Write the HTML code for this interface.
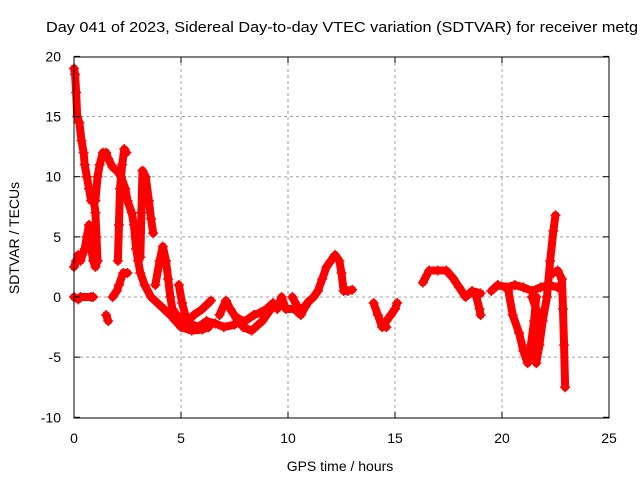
<!DOCTYPE html>
<html><head><meta charset="utf-8"><style>
body{margin:0;background:#fff}
svg{display:block;font-family:"Liberation Sans",sans-serif}
</style></head><body>
<svg id="chart" width="640" height="480" viewBox="0 0 640 480">
<rect width="640" height="480" fill="#fff"/>
<text x="46" y="32" font-size="15" textLength="592" lengthAdjust="spacingAndGlyphs" fill="#000">Day 041 of 2023, Sidereal Day-to-day VTEC variation (SDTVAR) for receiver metg</text>
<g id="grid"></g>
<g id="marks"></g>
<rect x="74" y="57" width="535" height="361" fill="none" stroke="#000" stroke-width="1"/>
<g id="ticks"></g>
<text transform="translate(19,238) rotate(-90)" text-anchor="middle" font-size="14">SDTVAR / TECUs</text>
<text x="340" y="471" text-anchor="middle" font-size="14">GPS time / hours</text>
</svg>
<script>
const xTicks=[0,5,10,15,20,25];
const yTicks=[-10,-5,0,5,10,15,20];
const trackA=[[0,19],[0.05,18.5],[0.1,17],[0.15,15],[0.25,14.5],[0.35,13],[0.45,12],[0.5,11],[0.6,10],[0.7,9],[0.8,8],[0.9,8.5],[1.0,7],[1.05,5],[1.1,3]];
const trackB=[[0,2.5],[0.1,3],[0.2,3.5],[0.3,3],[0.5,4],[0.6,5],[0.7,6],[0.8,4],[0.9,3],[1.0,2.5],[1.1,3]];
const trackC=[[0,0],[0.2,-0.2],[0.3,0],[0.8,0],[0.9,0]];
const trackD=[[1.0,8],[1.1,10],[1.2,11],[1.35,12],[1.5,12],[1.6,11.5],[1.8,10.8],[2.0,10.5],[2.2,10],[2.4,9],[2.5,8],[2.7,7],[2.8,6],[2.9,4],[3.0,3],[3.1,2],[3.3,1],[3.6,0],[3.9,-0.5],[4.2,-1],[4.5,-1.5],[5.0,-2.5],[5.5,-2.8],[6.0,-2.7],[6.3,-2.5]];
const trackE=[[2.05,3],[2.1,6],[2.15,9],[2.25,11],[2.35,12.3],[2.45,12]];
const trackF=[[1.5,-1.5],[1.6,-2]];
const trackG=[[1.8,0],[2.0,0.5],[2.1,1],[2.3,2],[2.5,2]];
const trackH=[[3.1,3.3],[3.15,7],[3.2,10.5],[3.35,10],[3.5,8],[3.6,6.5],[3.7,5.3]];
const trackI=[[3.8,1],[4.0,3],[4.15,4.2],[4.3,3],[4.4,1.5],[4.5,0],[4.6,-1],[4.8,-1.5],[5.0,-1.8],[5.3,-2],[5.6,-1.5],[6.0,-1],[6.4,-0.3]];
const trackJ=[[4.9,1],[5.05,-0.5],[5.2,-1.5],[5.4,-2.2],[5.8,-2.5],[6.2,-2],[6.6,-2.2],[7.0,-2.5],[7.5,-2.3],[7.7,-1.8],[7.9,-2.5],[8.3,-2.8],[8.8,-2],[9.2,-1],[9.6,-0.5]];
const trackK=[[6.8,-1.5],[7.1,-0.3],[7.3,-1],[7.6,-1.8],[8.0,-2],[8.4,-1.5],[8.7,-1.3],[9.0,-1],[9.3,-0.5]];
const trackL=[[9.5,-1],[9.7,0],[9.9,-1],[10.3,-1],[10.6,-1.5],[10.9,-0.5],[11.2,0],[11.4,0.5],[11.6,1.5],[11.8,2.5],[12.0,3],[12.2,3.5],[12.4,3],[12.5,2],[12.6,0.5],[12.8,0.5],[13.0,0.6]];
const trackM=[[10.2,0],[10.5,-1],[10.8,-0.8],[11.0,-0.3]];
const trackN=[[14.0,-0.5],[14.2,-1.5],[14.4,-2.5],[14.6,-2.5]];
const trackN2=[[14.6,-2],[14.8,-1.5],[15.0,-1],[15.1,-0.5]];
const trackO=[[16.3,1.2],[16.6,2.2],[17.0,2.2],[17.4,2.2],[17.7,1.6],[18.0,0.8],[18.3,0],[18.6,0.5],[19.0,0.3]];
const trackO2=[[18.8,0],[18.95,-1],[19.0,-1.5]];
const trackP=[[19.5,0.5],[19.8,1],[20.2,0.8],[20.6,1],[21.0,0.8],[21.4,0.5],[21.8,0.8],[22.2,1],[22.6,0.8]];
const trackQ=[[20.3,0.5],[20.5,-1.5],[20.8,-3],[21.0,-4.5],[21.2,-5.5],[21.35,-4],[21.5,-2],[21.6,0]];
const trackR=[[21.4,0],[21.6,-1],[21.8,-2.5],[21.6,-4],[21.6,-5.5],[21.75,-4],[21.9,-2],[22.1,0],[22.25,3],[22.4,5.5],[22.5,6.8]];
const trackS=[[22.4,2],[22.6,2.2],[22.8,1.5],[22.85,-1],[22.9,-4],[22.95,-7.5]];
const tracks=[trackA,trackB,trackC,trackD,trackE,trackF,trackG,trackH,trackI,trackJ,trackK,trackL,trackM,trackN,trackN2,trackO,trackO2,trackP,trackQ,trackR,trackS];
const X=h=>74+h*21.4, Y=v=>297-v*12.03;
const NS='http://www.w3.org/2000/svg';
const grid=document.getElementById('grid'),ticks=document.getElementById('ticks'),marks=document.getElementById('marks');
function mk(t,a,p){const e=document.createElementNS(NS,t);for(const k in a)e.setAttribute(k,a[k]);p.appendChild(e);return e;}
xTicks.forEach(t=>{
  const x=X(t);
  if(t>0&&t<25){const g=mk('line',{x1:x,y1:57,x2:x,y2:418,stroke:'#a0a0a0','stroke-dasharray':'3,3'},grid);
  
  }
  mk('line',{x1:x,y1:418,x2:x,y2:412,stroke:'#000'},ticks);mk('line',{x1:x,y1:57,x2:x,y2:63,stroke:'#000'},ticks);
  const l=mk('text',{x:x,y:443,'text-anchor':'middle','font-size':14},ticks);l.textContent=t;
  
  
});
yTicks.forEach(t=>{
  const y=Y(t);
  if(t>-10&&t<20){const g=mk('line',{x1:74,y1:y,x2:609,y2:y,stroke:'#a0a0a0','stroke-dasharray':'3,3'},grid);
  
  }
  mk('line',{x1:74,y1:y,x2:80,y2:y,stroke:'#000'},ticks);mk('line',{x1:609,y1:y,x2:603,y2:y,stroke:'#000'},ticks);
  const l=mk('text',{x:61,y:y+5,'text-anchor':'end','font-size':14},ticks);l.textContent=t;
  
  
});
tracks.forEach(tr=>{
  const pl=mk('polyline',{points:tr.map(p=>X(p[0])+','+Y(p[1])).join(' '),fill:'none',stroke:'#f00','stroke-width':8,'stroke-linejoin':'round','stroke-linecap':'round'},marks);
  
  
  tr.forEach(p=>{
    const x=X(p[0]),y=Y(p[1]);
    const m=mk('path',{d:`M${x-5},${y}h10M${x},${y-5}v10`,stroke:'#f00','stroke-width':1.5},marks);
    
    
  });
});
</script>
</body></html>
